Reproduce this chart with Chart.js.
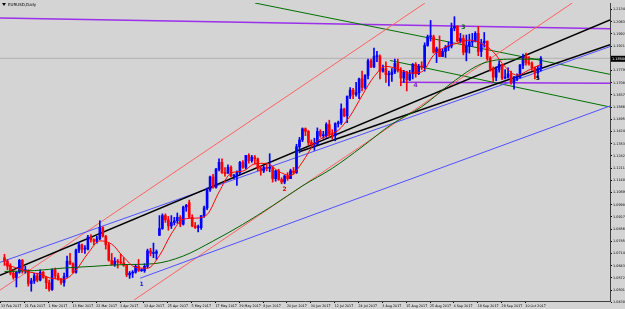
<!DOCTYPE html>
<html>
<head>
<meta charset="utf-8">
<script src="https://cdn.jsdelivr.net/npm/chart.js@4.4.1/dist/chart.umd.min.js"></script>
<style>
  html, body { margin: 0; padding: 0; background: #d4d4d4; }
  #wrap { width: 625px; height: 309px; }
</style>
</head>
<body>
<div id="wrap"><canvas id="myChart" width="625" height="309"></canvas></div>
<script>
// EURUSD daily, 9 Feb 2017 .. 19 Oct 2017 (one entry per bar)
const opens = [1.0690,1.0670,1.0640,1.0600,1.0575,1.0605,1.0675,1.0615,1.0615,1.0540,1.0555,1.0585,1.0560,1.0605,1.0575,1.0545,1.0505,1.0620,1.0585,1.0565,1.0545,1.0580,1.0670,1.0655,1.0605,1.0735,1.0765,1.0740,1.0740,1.0810,1.0795,1.0785,1.0800,1.0865,1.0815,1.0765,1.0675,1.0650,1.0670,1.0665,1.0660,1.0645,1.0590,1.0600,1.0605,1.0640,1.0615,1.0615,1.0640,1.0730,1.0715,1.0715,1.0820,1.0860,1.0935,1.0910,1.0875,1.0895,1.0905,1.0925,1.0885,1.0985,1.1010,1.0925,1.0875,1.0865,1.0865,1.0935,1.0980,1.1085,1.1160,1.1100,1.1205,1.1245,1.1185,1.1180,1.1215,1.1165,1.1165,1.1185,1.1245,1.1215,1.1285,1.1255,1.1275,1.1265,1.1210,1.1195,1.1215,1.1210,1.1215,1.1150,1.1195,1.1145,1.1130,1.1165,1.1150,1.1195,1.1185,1.1335,1.1375,1.1440,1.1425,1.1360,1.1350,1.1350,1.1425,1.1400,1.1400,1.1465,1.1410,1.1400,1.1470,1.1475,1.1555,1.1515,1.1630,1.1665,1.1640,1.1650,1.1730,1.1680,1.1750,1.1835,1.1800,1.1860,1.1860,1.1775,1.1790,1.1755,1.1755,1.1770,1.1820,1.1780,1.1735,1.1770,1.1725,1.1760,1.1815,1.1760,1.1805,1.1800,1.1925,1.1975,1.1975,1.1885,1.1905,1.1860,1.1890,1.1915,1.1920,1.2025,1.2035,1.1950,1.1965,1.1885,1.1920,1.1945,1.1950,1.1995,1.1890,1.1940,1.1950,1.1850,1.1790,1.1740,1.1785,1.1815,1.1735,1.1740,1.1760,1.1710,1.1730,1.1740,1.1810,1.1860,1.1825,1.1820,1.1795,1.1765,1.1790];
const highs = [1.0710,1.0680,1.0655,1.0620,1.0610,1.0680,1.0680,1.0640,1.0620,1.0570,1.0600,1.0600,1.0620,1.0610,1.0580,1.0560,1.0625,1.0630,1.0600,1.0570,1.0600,1.0700,1.0715,1.0660,1.0740,1.0780,1.0770,1.0760,1.0820,1.0825,1.0800,1.0815,1.0905,1.0870,1.0820,1.0775,1.0715,1.0690,1.0680,1.0710,1.0690,1.0650,1.0610,1.0615,1.0650,1.0680,1.0625,1.0655,1.0740,1.0745,1.0775,1.0735,1.0935,1.0945,1.0945,1.0930,1.0935,1.0925,1.0950,1.0935,1.0990,1.1000,1.1025,1.0940,1.0895,1.0880,1.0935,1.0990,1.1095,1.1165,1.1175,1.1210,1.1265,1.1265,1.1215,1.1230,1.1225,1.1175,1.1195,1.1250,1.1255,1.1285,1.1295,1.1285,1.1285,1.1270,1.1225,1.1225,1.1230,1.1295,1.1220,1.1200,1.1205,1.1155,1.1170,1.1185,1.1205,1.1215,1.1350,1.1390,1.1445,1.1445,1.1430,1.1375,1.1385,1.1445,1.1435,1.1425,1.1475,1.1490,1.1435,1.1475,1.1485,1.1585,1.1560,1.1630,1.1680,1.1675,1.1710,1.1735,1.1775,1.1755,1.1845,1.1845,1.1910,1.1890,1.1870,1.1810,1.1830,1.1775,1.1790,1.1845,1.1845,1.1795,1.1780,1.1775,1.1780,1.1820,1.1825,1.1815,1.1830,1.1940,1.1985,1.2070,1.1985,1.1915,1.1980,1.1905,1.1925,1.1945,1.2055,1.2092,1.2040,1.1995,1.1985,1.1985,1.1990,1.1995,1.2005,1.2035,1.1960,1.2000,1.1950,1.1860,1.1800,1.1800,1.1835,1.1815,1.1785,1.1795,1.1775,1.1745,1.1760,1.1815,1.1875,1.1880,1.1860,1.1830,1.1800,1.1805,1.1860];
const lows = [1.0645,1.0620,1.0590,1.0565,1.0520,1.0600,1.0600,1.0600,1.0525,1.0495,1.0540,1.0550,1.0555,1.0570,1.0510,1.0495,1.0500,1.0570,1.0560,1.0535,1.0525,1.0575,1.0650,1.0600,1.0600,1.0720,1.0720,1.0715,1.0735,1.0780,1.0765,1.0775,1.0795,1.0810,1.0740,1.0670,1.0650,1.0640,1.0630,1.0655,1.0640,1.0580,1.0570,1.0575,1.0600,1.0610,1.0610,1.0605,1.0630,1.0700,1.0690,1.0680,1.0820,1.0855,1.0895,1.0850,1.0860,1.0880,1.0890,1.0870,1.0880,1.0960,1.0920,1.0870,1.0860,1.0840,1.0855,1.0925,1.0970,1.1075,1.1095,1.1095,1.1195,1.1180,1.1165,1.1185,1.1160,1.1150,1.1110,1.1175,1.1210,1.1205,1.1240,1.1245,1.1235,1.1195,1.1170,1.1185,1.1195,1.1190,1.1130,1.1135,1.1140,1.1120,1.1120,1.1140,1.1150,1.1175,1.1180,1.1300,1.1365,1.1400,1.1345,1.1335,1.1315,1.1345,1.1390,1.1385,1.1390,1.1390,1.1380,1.1370,1.1450,1.1465,1.1510,1.1475,1.1615,1.1615,1.1630,1.1615,1.1660,1.1670,1.1730,1.1795,1.1795,1.1830,1.1730,1.1770,1.1710,1.1690,1.1715,1.1760,1.1770,1.1690,1.1710,1.1660,1.1720,1.1730,1.1740,1.1755,1.1785,1.1775,1.1920,1.1950,1.1880,1.1825,1.1860,1.1860,1.1855,1.1895,1.1910,1.2010,1.1945,1.1940,1.1870,1.1835,1.1880,1.1920,1.1945,1.1865,1.1860,1.1915,1.1840,1.1775,1.1715,1.1720,1.1770,1.1725,1.1730,1.1735,1.1700,1.1670,1.1720,1.1735,1.1790,1.1810,1.1810,1.1780,1.1730,1.1735,1.1775];
const closes = [1.0670,1.0640,1.0600,1.0575,1.0605,1.0675,1.0615,1.0615,1.0540,1.0555,1.0585,1.0560,1.0605,1.0575,1.0545,1.0505,1.0620,1.0585,1.0565,1.0545,1.0580,1.0670,1.0655,1.0605,1.0735,1.0765,1.0740,1.0740,1.0810,1.0795,1.0785,1.0800,1.0865,1.0815,1.0765,1.0675,1.0650,1.0670,1.0665,1.0660,1.0645,1.0590,1.0600,1.0605,1.0640,1.0615,1.0615,1.0640,1.0730,1.0715,1.0715,1.0725,1.0860,1.0935,1.0910,1.0875,1.0895,1.0905,1.0925,1.0885,1.0985,1.0995,1.0925,1.0875,1.0865,1.0865,1.0935,1.0980,1.1085,1.1160,1.1100,1.1205,1.1245,1.1185,1.1180,1.1215,1.1165,1.1165,1.1185,1.1245,1.1215,1.1285,1.1255,1.1275,1.1265,1.1210,1.1195,1.1215,1.1210,1.1215,1.1150,1.1195,1.1145,1.1130,1.1165,1.1150,1.1195,1.1185,1.1335,1.1375,1.1440,1.1425,1.1360,1.1350,1.1350,1.1425,1.1400,1.1400,1.1465,1.1410,1.1400,1.1470,1.1475,1.1555,1.1515,1.1630,1.1665,1.1640,1.1650,1.1730,1.1680,1.1750,1.1835,1.1800,1.1860,1.1860,1.1775,1.1790,1.1755,1.1755,1.1770,1.1820,1.1780,1.1735,1.1770,1.1725,1.1760,1.1815,1.1760,1.1805,1.1800,1.1925,1.1975,1.1975,1.1885,1.1905,1.1860,1.1890,1.1915,1.1920,1.2025,1.2035,1.1950,1.1965,1.1885,1.1920,1.1945,1.1950,1.1995,1.1890,1.1940,1.1950,1.1850,1.1790,1.1740,1.1785,1.1815,1.1735,1.1740,1.1760,1.1710,1.1730,1.1740,1.1810,1.1860,1.1825,1.1820,1.1795,1.1765,1.1790,1.1850];

// red fast average, read every 4 bars
const fastMa = [1.0655,1.0630,1.0608,1.0594,1.0569,1.0565,1.0618,1.0715,1.0788,1.0769,1.0693,1.0634,1.0629,1.0702,1.0829,1.0914,1.0920,1.0941,1.1072,1.1182,1.1194,1.1236,1.1239,1.1192,1.1168,1.1247,1.1353,1.1397,1.1431,1.1515,1.1633,1.1743,1.1803,1.1788,1.1764,1.1771,1.1868,1.1916,1.1938,1.1956,1.1936,1.1888,1.1801,1.1752,1.1782,1.1814];
// green slow average, read every 10 bars
const slowMa = [1.0610,1.0615,1.0630,1.0640,1.0650,1.0655,1.0700,1.0787,1.0884,1.0993,1.1108,1.1210,1.1335,1.1467,1.1568,1.1706,1.1817,1.1845,1.1845];

const dateLabels = ['13 Feb 2017','21 Feb 2017','1 Mar 2017','13 Mar 2017','22 Mar 2017','3 Apr 2017','13 Apr 2017','25 Apr 2017','5 May 2017','17 May 2017','29 May 2017','8 Jun 2017','20 Jun 2017','30 Jun 2017','12 Jul 2017','24 Jul 2017','3 Aug 2017','15 Aug 2017','25 Aug 2017','6 Sep 2017','18 Sep 2017','28 Sep 2017','10 Oct 2017'];
const priceTicks = [1.21340,1.20630,1.19920,1.19210,1.18500,1.17790,1.17080,1.16370,1.15660,1.14950,1.14240,1.13530,1.12820,1.12110,1.11400,1.10690,1.09980,1.09270,1.08560,1.07850,1.07140,1.06430,1.05720,1.05010,1.04300];
const lastPrice = 1.18500;

// drawn objects: [bar, price] -> [bar, price]
const trendLines = [
  { color: '#000000', width: 1.5, from: [-1.5, 1.05879], to: [203.2, 1.20735] },
  { color: '#000000', width: 1.5, from: [99.2, 1.13077], to: [203.2, 1.19296] },
  { color: '#5050ff', width: 1, from: [-1.5, 1.06628], to: [203.2, 1.19181] },
  { color: '#5050ff', width: 1, from: [45.5, 1.05706], to: [203.2, 1.15726] },
  { color: '#ff6060', width: 1, from: [-1.5, 1.05015], to: [141.1, 1.21714] },
  { color: '#ff6060', width: 1, from: [43.5, 1.04439], to: [190.5, 1.21714] },
  { color: '#007000', width: 1, from: [84.1, 1.21714], to: [203.2, 1.17568] },
  { color: '#007000', width: 1, from: [129.4, 1.18374], to: [203.2, 1.15668] },
  { color: '#9a30e8', width: 1.5, from: [-1.5, 1.20851], to: [203.2, 1.20217] },
  { color: '#9a30e8', width: 1.5, from: [132.7, 1.17108], to: [203.2, 1.17050] }
];
const waveMarks = [
  { text: '1', color: '#2020ff', at: [46, 1.0535] },
  { text: '2', color: '#e00000', at: [94, 1.1090] },
  { text: '3', color: '#006000', at: [154, 1.2030] },
  { text: '4', color: '#9020c0', at: [138, 1.1690] },
  { text: '5', color: '#000000', at: [179, 1.1730] }
];

const upColor = '#0000ff';
const downColor = '#ff0000';
const candleColors = closes.map((c, i) => (c >= opens[i] ? upColor : downColor));

const datasets = [];
trendLines.forEach((t) => {
  datasets.push({
    type: 'line',
    data: [{ x: t.from[0], y: t.from[1] }, { x: t.to[0], y: t.to[1] }],
    borderColor: t.color,
    borderWidth: t.width,
    pointRadius: 0,
    order: 5
  });
});
datasets.push({
  type: 'line',
  data: [{ x: -1.5, y: lastPrice }, { x: 203.2, y: lastPrice }],
  borderColor: '#b0b0b0',
  borderWidth: 1,
  pointRadius: 0,
  order: 6
});
datasets.push({
  type: 'line',
  data: slowMa.map((v, k) => ({ x: k * 10, y: v })),
  borderColor: '#006400',
  borderWidth: 1,
  pointRadius: 0,
  cubicInterpolationMode: 'monotone',
  order: 1
});
datasets.push({
  type: 'line',
  data: fastMa.map((v, k) => ({ x: k * 4, y: v })),
  borderColor: '#ff0000',
  borderWidth: 1,
  pointRadius: 0,
  cubicInterpolationMode: 'monotone',
  order: 0
});
datasets.push({
  type: 'bar',
  data: closes.map((c, i) => ({ x: i, y: [lows[i], highs[i]] })),
  backgroundColor: candleColors,
  barThickness: 1,
  grouped: false,
  order: 3
});
datasets.push({
  type: 'bar',
  data: closes.map((c, i) => ({ x: i, y: [opens[i], c] })),
  backgroundColor: candleColors,
  barThickness: 2,
  minBarLength: 1,
  grouped: false,
  order: 2
});

const overlay = {
  id: 'overlay',
  afterDraw(chart) {
    const c = chart.ctx;
    const xs = chart.scales.x;
    const ys = chart.scales.y;
    c.save();
    c.font = 'bold 6px "DejaVu Sans"';
    c.textAlign = 'center';
    c.textBaseline = 'middle';
    waveMarks.forEach((m) => {
      c.fillStyle = m.color;
      c.fillText(m.text, xs.getPixelForValue(m.at[0]), ys.getPixelForValue(m.at[1]));
    });
    // symbol caption
    c.font = '4px "DejaVu Sans"';
    c.textAlign = 'left';
    c.fillStyle = '#000';
    c.fillText('EURUSD,Daily', 8, 4.5);
    c.beginPath();
    c.moveTo(2, 3); c.lineTo(6, 3); c.lineTo(4, 6); c.closePath(); c.fill();
    // last price box
    const py = ys.getPixelForValue(lastPrice);
    c.fillStyle = '#000';
    c.fillRect(ys.left + 1, py - 2.5, 14, 6);
    c.fillStyle = '#fff';
    c.font = '3.5px "DejaVu Sans"';
    c.fillText(lastPrice.toFixed(5), ys.left + 2, py + 0.5);
    c.restore();
  }
};

const chart = new Chart(document.getElementById('myChart'), {
  data: { datasets: datasets },
  options: {
    responsive: false,
    animation: false,
    devicePixelRatio: 1,
    layout: { padding: 0 },
    plugins: { legend: { display: false }, tooltip: { enabled: false } },
    scales: {
      x: {
        type: 'linear',
        offset: false,
        min: -1.5,
        max: 203.2,
        afterBuildTicks: (axis) => {
          axis.ticks = dateLabels.map((l, k) => ({ value: 8 * k - 1.2 }));
        },
        afterFit: (axis) => { axis.height = 8; axis.paddingLeft = 0; },
        ticks: {
          autoSkip: false,
          maxRotation: 0,
          align: 'start',
          padding: 1,
          color: '#000',
          font: { size: 3.3, family: 'DejaVu Sans' },
          callback: (v, i) => dateLabels[i]
        },
        grid: { drawOnChartArea: false, offset: false, tickLength: 2, color: '#000' },
        border: { color: '#404040' }
      },
      y: {
        position: 'right',
        min: 1.04382,
        max: 1.21714,
        afterBuildTicks: (axis) => {
          axis.ticks = priceTicks.map((v) => ({ value: v }));
        },
        afterFit: (axis) => { axis.width = 15; },
        ticks: {
          padding: 1,
          color: '#000',
          font: { size: 3.4, family: 'DejaVu Sans' },
          callback: (v) => (v === lastPrice ? '' : v.toFixed(5))
        },
        grid: { drawOnChartArea: false, tickLength: 2, color: '#000' },
        border: { color: '#404040' }
      }
    }
  },
  plugins: [overlay]
});
</script>
</body>
</html>
